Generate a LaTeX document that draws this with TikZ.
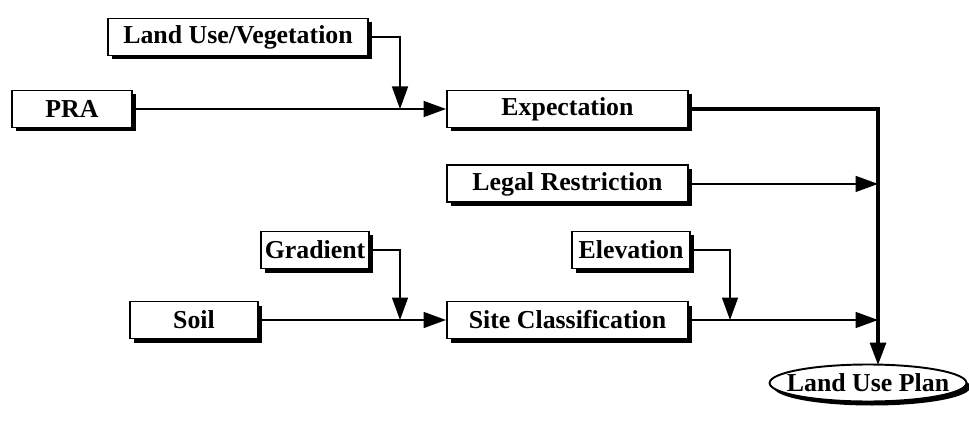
\documentclass[tikz,border=0pt]{standalone}
\usepackage{fontspec}
\setmainfont{Liberation Serif}
\usepackage{tikz}
\usetikzlibrary{arrows.meta,positioning,shadows,shapes.geometric}
\definecolor{ink}{RGB}{0,0,0}
\tikzset{
  block/.style={draw=ink,line width=1.1pt,fill=white,minimum height=0.74cm,
    inner sep=2pt,font=\fontsize{14.7}{16}\selectfont\bfseries,
    drop shadow={shadow xshift=0.08cm,shadow yshift=-0.08cm,fill=ink,opacity=1}},
  goal/.style={block,ellipse,inner xsep=-0.23cm,inner ysep=-2pt,minimum width=3.6cm,minimum height=0.74cm},
  link/.style={line width=0.9pt,ink,-{Triangle[length=0.45cm,width=0.32cm]}},
  trunk/.style={line width=1.8pt,ink,-{Triangle[length=0.45cm,width=0.32cm]}}
}
\begin{document}
\begin{tikzpicture}
  \useasboundingbox (0,0) rectangle (19.38,8.4);
  \node[block,minimum width=4.82cm] (exp) at (11.35,6.22) {Expectation};
  \node[block,minimum width=4.82cm,below=0.72cm of exp] (legal) {Legal Restriction};
  \node[block,minimum width=4.82cm] (site) at (11.35,2.0) {Site Classification};
  \node[block,minimum width=5.2cm] (luv) at (4.76,7.66) {Land Use/Vegetation};
  \node[block,minimum width=2.4cm] (pra) at (1.44,6.22) {PRA};
  \node[block,minimum width=2.12cm] (grad) at (6.3,3.4) {Gradient};
  \node[block,minimum width=2.36cm] (elev) at (12.62,3.4) {Elevation};
  \node[block,minimum width=2.56cm] (soil) at (3.88,2.0) {Soil};
  \node[goal] (plan) at (17.36,0.74) {Land Use Plan};
  \coordinate (m1) at (8.0,6.22);
  \coordinate (m2) at (8.0,2.0);
  \coordinate (m3) at (14.6,2.0);
  \coordinate (drop) at (17.56,1.1);
  \draw[link] (pra) -- (exp);
  \draw[link] (luv.east) -| (m1);
  \draw[link] (soil) -- (site);
  \draw[link] (grad.east) -| (m2);
  \draw[line width=0.9pt] (site.east) -- (m3);
  \draw[link] (elev.east) -| (m3);
  \draw[link] (m3) -- (site.east -| drop);
  \draw[link] (legal.east) -- (legal.east -| drop);
  \draw[trunk] (exp.east) -| (drop);
\end{tikzpicture}
\end{document}
